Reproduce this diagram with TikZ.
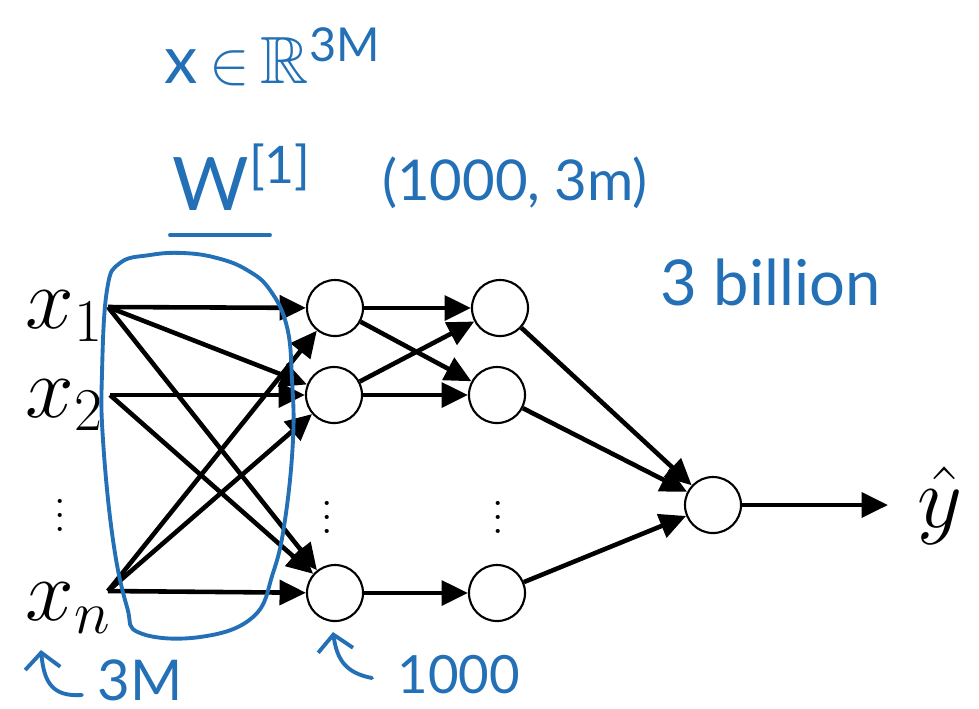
\documentclass[tikz,border=0pt]{standalone}
\usepackage{amsmath,amssymb}
\usepackage{fontspec}
\newfontfamily\handfont{Lato}
\usepackage{xcolor}
\usepackage{tikz}
\usetikzlibrary{arrows.meta,positioning,calc}
\definecolor{penblue}{RGB}{35,112,182}

\begin{document}
\begin{tikzpicture}[x=0.01cm,y=-0.01cm,>={Triangle[length=7.5pt,width=7pt]}]
  \tikzstyle{unit}=[draw,circle,line width=0.6pt,minimum size=0.56cm,inner sep=0pt]
  \tikzstyle{edge}=[->,line width=1.3pt]
  \tikzstyle{invar}=[anchor=base west,inner sep=0pt,font=\fontsize{23}{28}\selectfont]
  \tikzstyle{dotsnode}=[inner sep=0pt,font=\fontsize{12}{14}\selectfont]
  \tikzstyle{pen}=[text=penblue,inner sep=0pt]
  \tikzstyle{penline}=[draw=penblue,line width=1.1pt,line cap=round,line join=round]
  \useasboundingbox (0,0) rectangle (979,708);
  % inputs
  \node[invar] (x1) at (25,328) {$x_1$};
  \node[invar] (x2) at (25,417) {$x_2$};
  \node[dotsnode] (xdots) at (60,505) {$\vdots$};
  \node[invar] (xn) at (25,620) {$x_n$};
  \coordinate (in1) at (108,307);
  \coordinate (in2) at (110,395);
  \coordinate (inn) at (108,591);
  % hidden layers
  \node[unit] (h1) at (335,308) {};
  \node[unit] (h2) at (334,395) {};
  \node[dotsnode] (hdots) at (327,507) {$\vdots$};
  \node[unit] (hn) at (335,593) {};
  \node[unit] (g1) at (500,308) {};
  \node[unit] (g2) at (497,395) {};
  \node[dotsnode] (gdots) at (498,507) {$\vdots$};
  \node[unit] (gn) at (497,593) {};
  % output
  \node[unit] (out) at (713,505) {};
  \coordinate (yend) at (888,505);
  \node[anchor=base,inner sep=0pt,font=\fontsize{26}{30}\selectfont] (yhat) at (940,527) {$\hat{y}$};
  % connections
  \draw[edge] (in1) -- (h1);
  \draw[edge] (in1) -- (h2);
  \draw[edge] (in1) -- (hn);
  \draw[edge] (in2) -- (h2);
  \draw[edge] (in2) -- (hn);
  \draw[edge] (inn) -- (h1);
  \draw[edge] (inn) -- (h2);
  \draw[edge] (inn) -- (hn);
  \draw[edge] (h1) -- (g1);
  \draw[edge] (h1) -- (g2);
  \draw[edge] (h2) -- (g1);
  \draw[edge] (h2) -- (g2);
  \draw[edge] (hn) -- (gn);
  \draw[edge] (g1) -- (out);
  \draw[edge] (g2) -- (out);
  \draw[edge] (gn) -- (out);
  \draw[edge] (out) -- (yend);
  % hand notes
  \draw[penline] plot[smooth cycle,tension=0.7] coordinates {(107,290) (120,263) (150,255) (183,253) (217,258) (247,270) (270,290) (287,327) (292,380) (293,440) (285,520) (273,573) (253,617) (200,637) (140,633) (127,607) (113,540) (103,440) (102,373)};
  \node[pen,font=\handfont\fontsize{19}{22}\selectfont] (xspace) at (273,57) {x\,$\in$\,$\mathbb{R}$\textsuperscript{3M}};
  \node[pen,anchor=base west,font=\handfont\fontsize{21}{24}\selectfont] (wone) at (172,210) {W\textsuperscript{[1]}};
  \draw[penline] (170,235) -- (270,235);
  \node[pen,font=\handfont\fontsize{16}{19}\selectfont] (wshape) at (515,183) {(1000, 3m)};
  \node[pen,anchor=base west,font=\handfont\fontsize{18}{21}\selectfont] (wcount) at (660,305) {3 billion};
  \draw[penline,-{Straight Barb[length=4.5pt,width=10pt]}] (82,695) .. controls (52,697) and (44,682) .. (41,650);
  \node[pen,anchor=base west,font=\handfont\fontsize{16}{19}\selectfont] (nin) at (97,700) {3M};
  \draw[penline,-{Straight Barb[length=4.5pt,width=10pt]}] (372,678) .. controls (346,673) and (337,660) .. (333,632);
  \node[pen,anchor=base west,font=\handfont\fontsize{15}{18}\selectfont] (nhid) at (397,693) {1000};
\end{tikzpicture}
\end{document}
